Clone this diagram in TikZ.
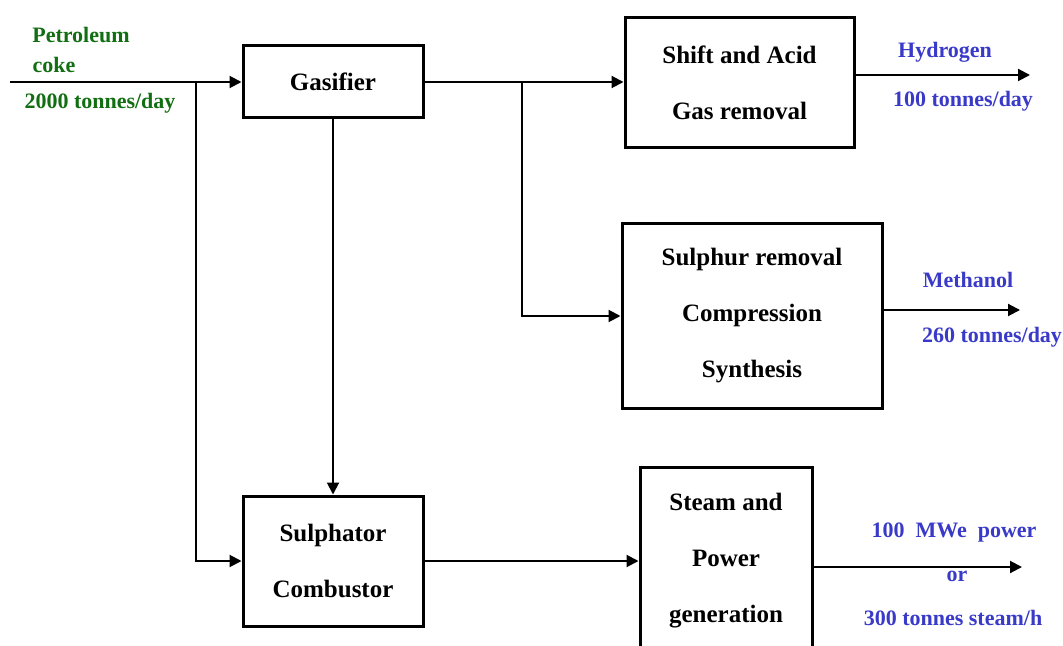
\documentclass[tikz,border=0pt]{standalone}
\usepackage{fontspec}
\setmainfont{Liberation Serif}
\usepackage{tikz}
\usetikzlibrary{arrows.meta,positioning}
\definecolor{feedgreen}{RGB}{18,110,18}
\definecolor{prodblue}{RGB}{58,58,200}
\tikzset{
  unit/.style={draw,line width=1.5pt,align=center,inner sep=0pt,font=\bfseries\fontsize{12.5}{28}\selectfont},
  arr/.style={-{Triangle[length=6pt,width=6pt]},line width=1pt},
  feedlbl/.style={text=feedgreen,font=\bfseries\fontsize{11}{12}\selectfont},
  prodlbl/.style={text=prodblue,font=\bfseries\fontsize{11}{12}\selectfont},
}

\begin{document}
\begin{tikzpicture}[x=0.5pt,y=-0.5pt]
 \clip (0,0) rectangle (1063,646);
 % process units
 \node[unit,minimum width=90pt,minimum height=36pt] (gas) at (333,82){Gasifier};
 \node[unit,minimum width=114.5pt,minimum height=65pt] (shift) at (739.5,83){Shift and Acid\\Gas removal};
 \node[unit,minimum width=130pt,minimum height=92pt] (sulph) at (752,316){Sulphur removal\\Compression\\Synthesis};
 \node[unit,minimum width=90pt,minimum height=65pt] (comb) at (333,561){Sulphator\\Combustor};
 \node[unit,minimum width=86pt,minimum height=94pt] (steam) at (726,561){Steam and\\Power\\generation};
 % feed
 \coordinate (feed) at (10,82);
 \coordinate (j1) at (196,82);
 \node[feedlbl] (pet) at (81,35){Petroleum};
 \node[feedlbl] (coke) at (54,65){coke};
 \node[feedlbl] (feedrate) at (100,103){2000 tonnes/day};
 \draw[arr] (feed) -- (gas.west);
 \draw[arr] (j1) |- (comb.west);
 \draw[arr] (gas.south) -- (comb.north);
 \draw[arr] (gas.east) -- (gas.east -| shift.west);
 \coordinate (j2) at (522,82);
 \draw[arr] (j2) |- (sulph.west);
 \draw[arr] (comb.east) -- (steam.west);
 % products
 \coordinate (h2) at (1030,75);
 \coordinate (meoh) at (1020,310);
 \coordinate (pwr) at (1022,567);
 \draw[arr] (shift.east |- h2) -- (h2);
 \draw[arr] (sulph.east |- meoh) -- (meoh);
 \draw[arr] (steam.east |- pwr) -- (pwr);
 \node[prodlbl] (hyd) at (945,52){Hydrogen};
 \node[prodlbl] (hydrate) at (963,101){100 tonnes/day};
 \node[prodlbl] (meth) at (968,280){Methanol};
 \node[prodlbl] (methrate) at (992,337){260 tonnes/day};
 \node[prodlbl] (power) at (954,533){100\ \ MWe\ \ power};
 \node[prodlbl] (orlbl) at (957,576){or};
 \node[prodlbl] (steamrate) at (953,618){300 tonnes steam/h};
\end{tikzpicture}
\end{document}
